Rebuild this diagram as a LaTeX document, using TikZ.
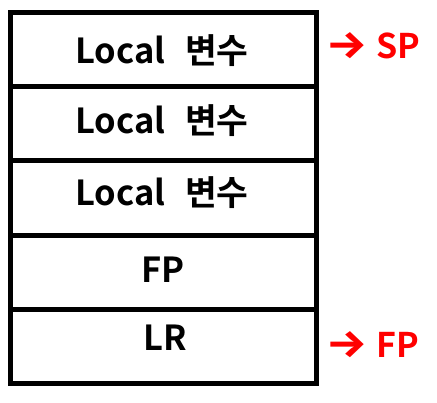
\documentclass[tikz,border=0pt]{standalone}
\usepackage{fontspec}
\setmainfont{Noto Sans CJK KR}[BoldFont={* Bold}]
\newfontfamily\arrowfont{Fira Sans}
\definecolor{pred}{HTML}{FF0000}
\newcommand{\redarrow}{{\arrowfont\scalebox{1.35}[1.15]{→}}}
\newcommand{\widegap}[1]{\spaceskip=#1\relax}
\begin{document}
\begin{tikzpicture}[x=1pt,y=-1pt,
  cell/.style={draw=black,line width=5pt,minimum width=306pt,minimum height=74.2pt,inner sep=0pt,anchor=north west},
  celltext/.style={font=\bfseries\fontsize{34.5}{34}\selectfont,execute at begin node={\widegap{20pt}},inner sep=0pt,anchor=center},
  marker/.style={font=\bfseries\fontsize{34}{34}\selectfont,execute at begin node={\widegap{9pt}},text=pred,inner sep=0pt,anchor=west}]
\useasboundingbox (0,0) rectangle (437,403);
\node[cell] (b1) at (8,10) {};
\node[cell] (b2) at (8,84.2) {};
\node[cell] (b3) at (8,158.4) {};
\node[cell] (b4) at (8,232.6) {};
\node[cell] (b5) at (8,306.8) {};
\node[celltext] (t1) at (162,51) {Local 변수};
\node[celltext] (t2) at (162,121) {Local 변수};
\node[celltext] (t3) at (162,193) {Local 변수};
\node[celltext] (t4) at (163,270) {FP};
\node[celltext] (t5) at (165,338) {LR};
\node[marker] (sp) at (326,46) {\redarrow{} SP};
\node[marker] (fp) at (326,345) {\redarrow{} FP};
\end{tikzpicture}
\end{document}
